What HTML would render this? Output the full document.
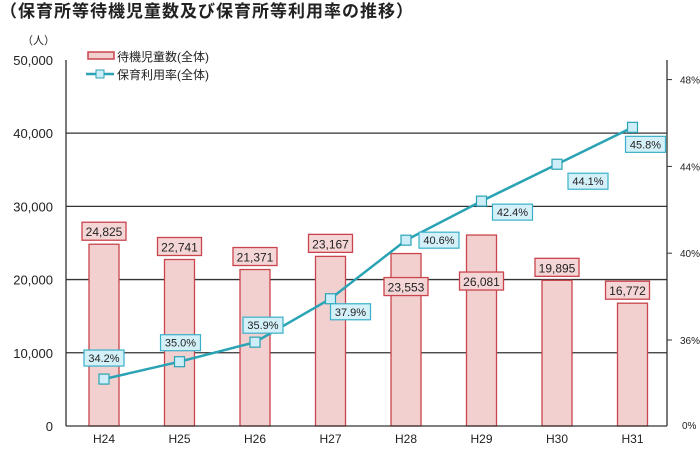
<!DOCTYPE html>
<html><head><meta charset="utf-8"><style>
body{margin:0;background:#fff;width:700px;height:445px;overflow:hidden;font-family:"Liberation Sans","Noto Sans CJK JP",sans-serif}
</style></head><body>
<svg width="700" height="445" xmlns="http://www.w3.org/2000/svg" font-family="Liberation Sans, Noto Sans CJK JP, sans-serif">
<text x="0" y="17" font-size="17" font-weight="bold" fill="#222" letter-spacing="1">（保育所等待機児童数及び保育所等利用率の推移）</text>
<text x="22" y="44" font-size="11" fill="#222">（人）</text>
<g id="grid"></g><g id="bars"></g><g id="line"></g><g id="labels"></g><g id="axes"></g>
<g>
<rect x="88" y="52" width="26" height="7" fill="#f2d0d0" stroke="#c9444c" stroke-width="1.5"/>
<text x="117" y="61" font-size="12" fill="#222">待機児童数(全体)</text>
<line x1="86" y1="74" x2="114" y2="74" stroke="#2aa3b5" stroke-width="2.5"/>
<rect x="96" y="70" width="8" height="8" fill="#cdeef8" stroke="#2aa3b5"/>
<text x="117" y="79" font-size="12" fill="#222">保育利用率(全体)</text>
</g>
</svg>
<script>
const categories=["H24","H25","H26","H27","H28","H29","H30","H31"];
const waiting=[24825,22741,21371,23167,23553,26081,19895,16772];
const rate=[34.2,35.0,35.9,37.9,40.6,42.4,44.1,45.8];
const leftTicks=[0,10000,20000,30000,40000,50000];
const rightTicks=[36,40,44,48];
const NS="http://www.w3.org/2000/svg";
const X0=66,X1=667,Y0=426;
const xs=i=>104+i*75.5;
const yL=v=>Y0-v*0.007322;
const yR=v=>340-(v-36)*21.7;
const barOff=[[0,-13],[0,-13],[0,-13],[0,-13],[0,33],[0,46],[0,-13],[-5,-13]];
const pctOff=[[0,-21],[1,-19],[8,-17],[20,13],[33,0],[31,11],[31,17],[13,17]];
function mk(tag,a,p){const e=document.createElementNS(NS,tag);for(const k in a)e.setAttribute(k,a[k]);p.appendChild(e);return e;}
const g=document.getElementById('grid'),b=document.getElementById('bars'),l=document.getElementById('line'),lb=document.getElementById('labels'),ax=document.getElementById('axes');
leftTicks.forEach(t=>{
 if(t>0&&t<50000){const ln=mk('line',{x1:X0,x2:X1,y1:yL(t),y2:yL(t),stroke:'#333','stroke-width':1.3},g);
 
 }
 const tx=mk('text',{x:53,y:yL(t)+5,'font-size':13,'text-anchor':'end',fill:'#222'},ax);tx.textContent=t.toLocaleString('en-US');
 
 
});
rightTicks.forEach(t=>{
 const tx=mk('text',{x:680,y:yR(t)+4,'font-size':10,fill:'#222'},ax);tx.textContent=t+'%';
 
 
 mk('line',{x1:X1,x2:X1+5,y1:yR(t),y2:yR(t),stroke:'#333'},ax);
});
const z=mk('text',{x:682,y:Y0+3,'font-size':10,fill:'#222'},ax);z.textContent='0%';


const a1=mk('line',{x1:X0,x2:X0,y1:60,y2:Y0,stroke:'#333','stroke-width':1.3},ax);


const a2=mk('line',{x1:X1,x2:X1,y1:60,y2:Y0,stroke:'#333','stroke-width':1.3},ax);


const a3=mk('line',{x1:X0,x2:X1,y1:Y0,y2:Y0,stroke:'#333','stroke-width':1.3},ax);


categories.forEach((c,i)=>{
 const tx=mk('text',{x:xs(i),y:443,'font-size':12,'text-anchor':'middle',fill:'#222'},ax);tx.textContent=c;
 
 
 const r=mk('rect',{x:xs(i)-15,y:yL(waiting[i]),width:30,height:Y0-yL(waiting[i]),fill:'#f2d0d0',stroke:'#c9444c','stroke-width':1.3},b);
 
 
 const cx=xs(i)+barOff[i][0],cy=yL(waiting[i])+barOff[i][1];
 const br=mk('rect',{x:cx-22,y:cy-9,width:44,height:18,fill:'#f5d6d6',stroke:'#c9444c','stroke-width':1.3},lb);
 
 
 const bt=mk('text',{x:cx,y:cy+5,'font-size':12,'text-anchor':'middle',fill:'#222'},lb);bt.textContent=waiting[i].toLocaleString('en-US');
 
 
});
const pl=mk('polyline',{points:rate.map((v,i)=>xs(i)+','+yR(v)).join(' '),fill:'none',stroke:'#2aa3b5','stroke-width':2.5},l);


rate.forEach((v,i)=>{
 const m=mk('rect',{x:xs(i)-5,y:yR(v)-5,width:10,height:10,fill:'#cdeef8',stroke:'#2aa3b5','stroke-width':1.2},l);
 
 
 const cx=xs(i)+pctOff[i][0],cy=yR(v)+pctOff[i][1];
 const r=mk('rect',{x:cx-20,y:cy-8,width:40,height:16,fill:'#d4f0f9',stroke:'#3ab0c8','stroke-width':1.2},lb);
 
 
 const t=mk('text',{x:cx,y:cy+4,'font-size':11,'text-anchor':'middle',fill:'#222'},lb);t.textContent=v.toFixed(1)+'%';
 
 
});
</script>
</body></html>
